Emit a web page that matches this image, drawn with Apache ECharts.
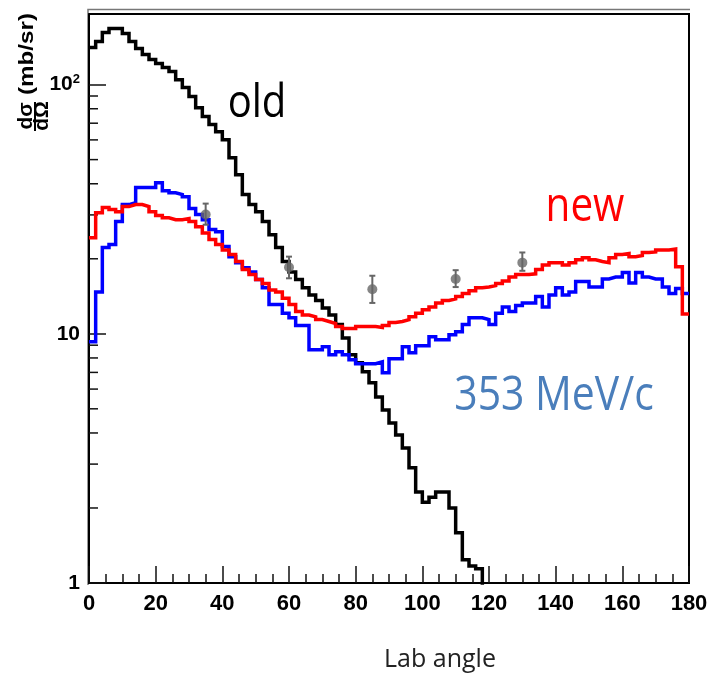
<!DOCTYPE html>
<html>
<head>
<meta charset="utf-8">
<script src="https://cdn.jsdelivr.net/npm/echarts@6/dist/echarts.min.js"></script>
<style>
  html, body { margin: 0; padding: 0; background: #fff; }
  #chart { width: 725px; height: 675px; }
</style>
</head>
<body>
<div id="chart"></div>
<script>
// bin left edges, 2 degree bins
const binEdges = Array.from({ length: 90 }, (_, i) => i * 2);

const oldValues = [
  140.8, 148.8, 161.8, 167.9, 167.9, 160.3, 148.8, 139.5, 132, 126,
  121.4, 117, 112.8, 104.7, 97.3, 89.5, 80.8, 74.4, 69.1, 64.7,
  60.1, 50.9, 43.5, 36.2, 33.0, 30.9, 28.2, 25.0, 22.2, 19.5,
  17.7, 16.5, 15.3, 14.3, 13.6, 12.7, 11.9, 10.9, 9.63, 8.24,
  7.65, 7.04, 6.36, 5.58, 4.95, 4.39, 3.93, 3.48, 2.90, 2.32,
  2.11, 2.21, 2.32, 2.32, 2.0, 1.59, 1.24, 1.17, 1.14, 0.5,
  0.5, 0.5, 0.5, 0.5, 0.5, 0.5, 0.5, 0.5, 0.5, 0.5,
  0.5, 0.5, 0.5, 0.5, 0.5, 0.5, 0.5, 0.5, 0.5, 0.5,
  0.5, 0.5, 0.5, 0.5, 0.5, 0.5, 0.5, 0.5, 0.5, 0.5
];

const newValues = [
  24.3, 30.6, 32.1, 31.5, 30.9, 32.4, 33.0, 33.0, 32.4, 30.9,
  29.8, 29.2, 28.7, 28.7, 29.0, 28.2, 26.9, 25.4, 23.9, 22.8,
  21.7, 20.8, 19.5, 18.1, 17.3, 16.5, 15.9, 15.0, 14.7, 13.9,
  13.1, 12.3, 11.9, 11.7, 11.4, 11.2, 11.0, 10.7, 10.5, 10.5,
  10.7, 10.7, 10.7, 10.6, 10.8, 11.1, 11.2, 11.4, 11.7, 12.1,
  12.5, 12.8, 13.3, 13.6, 13.8, 14.1, 14.5, 14.9, 15.3, 15.4,
  15.6, 15.9, 16.3, 16.9, 17.3, 17.3, 17.4, 18.1, 18.9, 19.3,
  19.3, 18.9, 19.3, 19.8, 20.2, 19.8, 19.5, 19.3, 20.2, 20.8,
  21.0, 20.4, 20.6, 21.2, 21.3, 21.7, 21.7, 21.9, 18.6, 12.0
];

const mevValues = [
  9.3, 14.7, 22.2, 22.8, 28.2, 33.0, 33.6, 38.6, 38.6, 38.6,
  40.4, 37.5, 36.8, 36.2, 35.5, 31.8, 30.1, 28.7, 26.2, 25.7,
  22.4, 20.4, 19.3, 18.4, 17.7, 16.5, 15.3, 13.1, 13.1, 12.1,
  11.6, 10.8, 10.8, 8.62, 8.62, 8.87, 8.24, 8.47, 8.24, 7.86,
  7.58, 7.58, 7.58, 7.72, 6.97, 7.94, 7.94, 8.87, 8.39, 8.95,
  8.95, 9.72, 9.46, 9.46, 9.91, 10.2, 10.9, 11.6, 11.6, 11.4,
  10.9, 12.1, 12.8, 12.3, 13.0, 13.3, 13.3, 14.1, 12.8, 14.3,
  15.3, 14.3, 14.7, 16.2, 16.2, 15.4, 15.4, 16.6, 16.9, 16.9,
  17.6, 16.0, 17.6, 16.9, 16.6, 16.6, 15.4, 14.5, 15.2, 14.5
];

// measured points: angle, value, low, high
const dataAngles = [35, 60, 85, 110, 130];
const dataValues = [30.1, 18.5, 15.1, 16.6, 19.3];
const dataLow = [27.4, 16.7, 13.3, 15.4, 17.9];
const dataHigh = [33.3, 20.4, 17.1, 18.0, 21.2];

const yMinorTicks = [2, 3, 4, 5, 6, 7, 8, 9, 20, 30, 40, 50, 60, 70, 80, 90];

function histPoints(values) {
  const pts = binEdges.map((x, i) => [x, values[i]]);
  pts.push([180, values[values.length - 1]]);
  return pts;
}

const chart = echarts.init(document.getElementById('chart'));

const option = {
  backgroundColor: '#fff',
  animation: false,
  grid: {
    left: 89,
    right: 36,
    top: 14,
    bottom: 92,
    show: true,
    borderColor: '#000',
    borderWidth: 2
  },
  xAxis: {
    type: 'value',
    min: 0,
    max: 180,
    interval: 20,
    axisLine: { lineStyle: { color: '#000', width: 2 } },
    axisTick: { inside: true, length: 17, lineStyle: { color: '#111', width: 1.5 } },
    minorTick: { show: true, splitNumber: 4, length: 9, lineStyle: { color: '#111', width: 1.5 } },
    splitLine: { show: false },
    axisLabel: {
      margin: 10,
      color: '#000',
      fontFamily: 'Liberation Sans',
      fontWeight: 'bold',
      fontSize: 22
    }
  },
  yAxis: {
    type: 'log',
    logBase: 10,
    min: 1,
    max: 192,
    axisLine: { lineStyle: { color: '#000', width: 2 } },
    axisTick: { inside: true, length: 17, lineStyle: { color: '#111', width: 1.5 } },
    splitLine: { show: false },
    axisLabel: {
      margin: 9,
      showMaxLabel: false,
      color: '#000',
      formatter: function (v) {
        if (Math.abs(v - 100) < 1e-6) return '{a|10}{s|2}';
        if (Math.abs(v - 10) < 1e-6) return '{a|10}';
        if (Math.abs(v - 1) < 1e-6) return '{a|1}';
        return '';
      },
      rich: {
        a: { fontFamily: 'Liberation Sans', fontWeight: 'bold', fontSize: 21, color: '#000' },
        s: { fontFamily: 'Liberation Sans', fontWeight: 'bold', fontSize: 13, color: '#000', verticalAlign: 'top', padding: [0, 0, 10, 0] }
      }
    }
  },
  graphic: [
    {
      type: 'polyline',
      shape: { points: [[88, 585], [88, 9.5], [690, 9.5]] },
      style: { stroke: '#777', lineWidth: 1.5, fill: null },
      silent: true
    },
    {
      type: 'text', x: 257, y: 104, scaleX: 0.87,
      style: { text: 'old', x: 0, y: 0, align: 'center', verticalAlign: 'middle', textAlign: 'center', textVerticalAlign: 'middle',
        font: '46px "Open Sans"', fill: '#000' }
    },
    {
      type: 'text', x: 585, y: 208, scaleX: 0.86,
      style: { text: 'new', x: 0, y: 0, align: 'center', verticalAlign: 'middle', textAlign: 'center', textVerticalAlign: 'middle',
        font: '47px "Open Sans"', fill: '#ff0000' }
    },
    {
      type: 'text', x: 554, y: 397, scaleX: 0.87,
      style: { text: '353 MeV/c', x: 0, y: 0, align: 'center', verticalAlign: 'middle', textAlign: 'center', textVerticalAlign: 'middle',
        font: '47px "Open Sans"', fill: '#4a7ebb' }
    },
    {
      type: 'text', x: 440, y: 660,
      style: { text: 'Lab angle', x: 0, y: 0, align: 'center', verticalAlign: 'middle', textAlign: 'center', textVerticalAlign: 'middle',
        font: '25px "Open Sans"', fill: '#222' }
    },
    // y axis title, rotated
    {
      type: 'text', x: 27, y: 54, rotation: Math.PI / 2, scaleX: 1.15,
      style: { text: '(mb/sr)', x: 0, y: 0, align: 'center', verticalAlign: 'middle', textAlign: 'center', textVerticalAlign: 'middle',
        font: 'bold 21px "Liberation Sans"', fill: '#000' }
    },
    {
      type: 'text', x: 26, y: 116, rotation: Math.PI / 2,
      style: { text: 'dσ', x: 0, y: 0, align: 'center', verticalAlign: 'middle', textAlign: 'center', textVerticalAlign: 'middle',
        font: 'bold 21px "Liberation Sans"', fill: '#000' }
    },
    {
      type: 'text', x: 42, y: 116, rotation: Math.PI / 2,
      style: { text: 'dΩ', x: 0, y: 0, align: 'center', verticalAlign: 'middle', textAlign: 'center', textVerticalAlign: 'middle',
        font: 'bold 21px "Liberation Sans"', fill: '#000' }
    },
    {
      type: 'line',
      shape: { x1: 35, y1: 102, x2: 35, y2: 131 },
      style: { stroke: '#000', lineWidth: 2 }
    }
  ],
  series: [
    {
      name: 'old',
      type: 'line',
      step: 'end',
      data: histPoints(oldValues),
      symbol: 'none',
      clip: true,
      lineStyle: { color: '#000', width: 3.5, join: 'miter', cap: 'butt' },
      z: 2
    },
    {
      name: '353 MeV/c',
      type: 'line',
      step: 'end',
      data: histPoints(mevValues),
      symbol: 'none',
      clip: true,
      lineStyle: { color: '#0000ff', width: 3.5, join: 'miter', cap: 'butt' },
      z: 3
    },
    {
      name: 'new',
      type: 'line',
      step: 'end',
      data: histPoints(newValues),
      symbol: 'none',
      clip: true,
      lineStyle: { color: '#ff0000', width: 3.5, join: 'miter', cap: 'butt' },
      z: 4
    },
    {
      name: 'errors',
      type: 'custom',
      data: dataAngles.map((x, i) => [x, dataValues[i], dataLow[i], dataHigh[i]]),
      renderItem: function (params, api) {
        const x = api.value(0);
        const hi = api.coord([x, api.value(3)]);
        const lo = api.coord([x, api.value(2)]);
        const cap = 3;
        const st = { stroke: '#666', lineWidth: 2 };
        return {
          type: 'group',
          children: [
            { type: 'line', shape: { x1: hi[0], y1: hi[1], x2: lo[0], y2: lo[1] }, style: st },
            { type: 'line', shape: { x1: hi[0] - cap, y1: hi[1], x2: hi[0] + cap, y2: hi[1] }, style: st },
            { type: 'line', shape: { x1: lo[0] - cap, y1: lo[1], x2: lo[0] + cap, y2: lo[1] }, style: st }
          ]
        };
      },
      z: 5
    },
    {
      name: 'data',
      type: 'scatter',
      data: dataAngles.map((x, i) => [x, dataValues[i]]),
      symbol: 'circle',
      symbolSize: 10,
      itemStyle: { color: '#666' },
      z: 6
    },
    {
      name: 'yMinor',
      type: 'custom',
      silent: true,
      clip: false,
      data: yMinorTicks.map((v) => [0, v]),
      renderItem: function (params, api) {
        const p = api.coord([0, api.value(1)]);
        return {
          type: 'line',
          shape: { x1: p[0], y1: p[1], x2: p[0] + 9, y2: p[1] },
          style: { stroke: '#111', lineWidth: 1.5 }
        };
      },
      z: 1
    }
  ]
};

chart.setOption(option);
</script>
</body>
</html>
